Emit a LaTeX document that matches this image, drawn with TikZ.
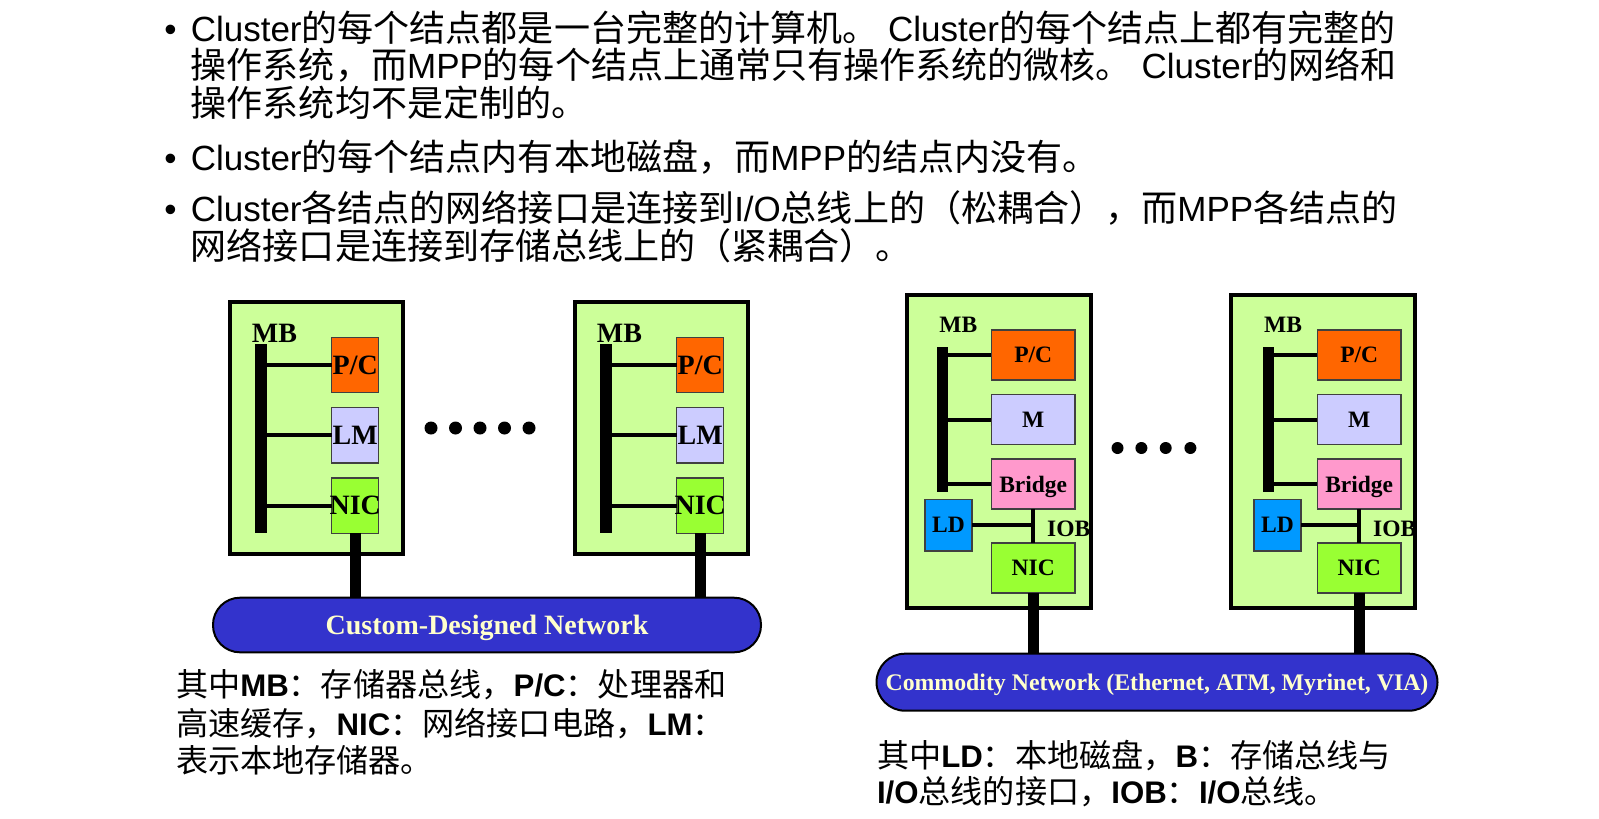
\documentclass[tikz,border=0pt]{standalone}
\usepackage{fontspec}
\setmainfont[Scale=1.03]{Noto Sans CJK SC}
\newfontfamily\latin{Liberation Sans}
\newfontfamily\boxfont{Liberation Serif}
\usetikzlibrary{positioning}

\definecolor{boardgreen}{HTML}{CCFF99}
\definecolor{pcorange}{HTML}{FF6600}
\definecolor{memlilac}{HTML}{CCCCFF}
\definecolor{nicgreen}{HTML}{99FF33}
\definecolor{bridgepink}{HTML}{FF99CC}
\definecolor{diskblue}{HTML}{0099FF}
\definecolor{netblue}{HTML}{3333CC}
\definecolor{netyellow}{HTML}{FFFFCC}

\newcommand{\en}[1]{{\latin #1}}
\newcommand{\enb}[1]{{\latin\bfseries #1}}

\begin{document}
\begin{tikzpicture}[%
    x=1pt, y=-1pt,
    every node/.style={inner sep=0pt, outer sep=0pt},
    topline/.style={anchor=base west, font=\fontsize{35}{42}\selectfont},
    noteline/.style={anchor=base west, font=\fontsize{31.2}{38}\selectfont},
    board/.style={draw, line width=4pt, fill=boardgreen},
    mppcell/.style={draw=black!75, line width=1.5pt, minimum width=47pt, minimum height=55.3pt,
        text depth=0pt, font=\boxfont\bfseries\fontsize{28}{30}\selectfont},
    clucell/.style={draw=black!75, line width=1.5pt, minimum width=83.5pt, minimum height=50pt,
        text depth=0pt, font=\boxfont\bfseries\fontsize{23.5}{26}\selectfont},
    mpplabel/.style={font=\boxfont\bfseries\fontsize{28}{30}\selectfont},
    clulabel/.style={font=\boxfont\bfseries\fontsize{23.5}{26}\selectfont},
    membus/.style={fill=black, minimum width=12pt},
    busline/.style={line width=4pt},
    uplink/.style={line width=11pt},
    netbar/.style={draw, line width=2pt, fill=netblue, text=netyellow, text depth=0pt}
]
\useasboundingbox (0,0) rectangle (1599,819);

% bullet text
\node[topline, anchor=base] (dot1) at (170.4,41) {\en{•}};
\node[topline] (t1a) at (190.8,41) {\en{Cluster}的每个结点都是一台完整的计算机。\en{\ Cluster}的每个结点上都有完整的};
\node[topline] (t1b) at (190.8,78.5) {操作系统，而\en{MPP}的每个结点上通常只有操作系统的微核。\en{\ Cluster}的网络和};
\node[topline] (t1c) at (190.8,116) {操作系统均不是定制的。};
\node[topline, anchor=base] (dot2) at (170.4,170) {\en{•}};
\node[topline] (t2a) at (190.8,170) {\en{Cluster}的每个结点内有本地磁盘，而\en{MPP}的结点内没有。};
\node[topline, anchor=base] (dot3) at (170.4,221) {\en{•}};
\node[topline] (t3a) at (190.8,221) {\en{Cluster}各结点的网络接口是连接到\en{I/O}总线上的（松耦合），而\en{MPP}各结点的};
\node[topline] (t3b) at (190.8,259) {网络接口是连接到存储总线上的（紧耦合）。};

% MPP: two nodes on the custom network
\node[board, minimum width=173pt, minimum height=252pt] (mppA) at (316.5,428) {};
\node[board, minimum width=173pt, minimum height=252pt] (mppB) at (661.5,428) {};

\node[membus, minimum height=189pt] (mbA) at (260.5,438.5) {};
\node[mpplabel] (mbtA) at (274.5,333) {MB};
\node[mppcell, fill=pcorange] (pcA) at (355.2,365) {P/C};
\node[mppcell, fill=memlilac, below=15pt of pcA] (lmA) {LM};
\node[mppcell, fill=nicgreen, below=15pt of lmA] (nicA) {\makebox[0pt]{NIC}};

\node[membus, minimum height=189pt] (mbB) at (605.5,438.5) {};
\node[mpplabel] (mbtB) at (619.5,333) {MB};
\node[mppcell, fill=pcorange] (pcB) at (700.2,365) {P/C};
\node[mppcell, fill=memlilac, below=15pt of pcB] (lmB) {LM};
\node[mppcell, fill=nicgreen, below=15pt of lmB] (nicB) {\makebox[0pt]{NIC}};

\draw[busline] (mbA.east |- pcA.west) -- (pcA.west);
\draw[busline] (mbA.east |- lmA.west) -- (lmA.west);
\draw[busline] (mbA.east |- nicA.west) -- (nicA.west);
\draw[busline] (mbB.east |- pcB.west) -- (pcB.west);
\draw[busline] (mbB.east |- lmB.west) -- (lmB.west);
\draw[busline] (mbB.east |- nicB.west) -- (nicB.west);

\node[netbar, minimum width=548pt, minimum height=54.6pt, rounded corners=27pt,
    font=\boxfont\bfseries\fontsize{28}{30}\selectfont] (netCustom) at (487,625) {Custom-Designed Network};
\draw[uplink] (nicA.south) -- (nicA.south |- netCustom.north);
\draw[uplink] (nicB.south) -- (nicB.south |- netCustom.north);

\fill (431,428) circle (6.5pt) (455.5,428) circle (6.5pt) (480,428) circle (6.5pt)
    (504.5,428) circle (6.5pt) (529,428) circle (6.5pt);

% Cluster: two nodes on the commodity network
\node[board, minimum width=184.3pt, minimum height=312.7pt] (cluA) at (999.2,451.7) {};
\node[board, minimum width=184.3pt, minimum height=312.7pt] (cluB) at (1323.2,451.7) {};

\node[membus, minimum width=11.7pt, minimum height=145.6pt] (cmbA) at (942.5,419.5) {};
\node[clulabel] (cmbtA) at (958.3,325) {MB};
\node[clucell, fill=pcorange] (cpcA) at (1033.2,355) {P/C};
\node[clucell, fill=memlilac, below=14.6pt of cpcA] (cmA) {M};
\node[clucell, fill=bridgepink, below=14.6pt of cmA] (cbrA) {Bridge};
\node[clucell, fill=nicgreen, below=34pt of cbrA] (cnicA) {NIC};
\node[clucell, fill=diskblue, minimum width=47pt, minimum height=51.2pt] (cldA) at (948.5,525.3) {LD};
\node[clulabel] (ciobA) at (1068.7,529.3) {IOB};

\node[membus, minimum width=11.7pt, minimum height=145.6pt] (cmbB) at (1268.5,419.5) {};
\node[clulabel] (cmbtB) at (1283,325) {MB};
\node[clucell, fill=pcorange] (cpcB) at (1359.2,355) {P/C};
\node[clucell, fill=memlilac, below=14.6pt of cpcB] (cmB) {M};
\node[clucell, fill=bridgepink, below=14.6pt of cmB] (cbrB) {Bridge};
\node[clucell, fill=nicgreen, below=34pt of cbrB] (cnicB) {NIC};
\node[clucell, fill=diskblue, minimum width=47pt, minimum height=51.2pt] (cldB) at (1277.5,525.3) {LD};
\node[clulabel] (ciobB) at (1394.7,529.3) {IOB};

\draw[busline] (cmbA.east |- cpcA.west) -- (cpcA.west);
\draw[busline] (cmbA.east |- cmA.west) -- (cmA.west);
\draw[busline] (cmbA.east |- cbrA.west) -- (cbrA.west);
\draw[busline] (cbrA.south) -- (cnicA.north);
\draw[busline] (cldA.east) -- (cldA.east -| cbrA.south);
\draw[busline] (cmbB.east |- cpcB.west) -- (cpcB.west);
\draw[busline] (cmbB.east |- cmB.west) -- (cmB.west);
\draw[busline] (cmbB.east |- cbrB.west) -- (cbrB.west);
\draw[busline] (cbrB.south) -- (cnicB.north);
\draw[busline] (cldB.east) -- (cldB.east -| cbrB.south);

\node[netbar, minimum width=561pt, minimum height=57pt, rounded corners=28.5pt,
    font=\boxfont\bfseries\fontsize{23.8}{26}\selectfont] (netCommodity) at (1157,682.2)
    {Commodity Network (Ethernet, ATM, Myrinet, VIA)};
\draw[uplink] (cnicA.south) -- (cnicA.south |- netCommodity.north);
\draw[uplink] (cnicB.south) -- (cnicB.south |- netCommodity.north);

\fill (1117.5,448) circle (6pt) (1141.4,448) circle (6pt) (1165.7,448) circle (6pt)
    (1190.4,448) circle (6pt);

% notes under the pictures
\node[noteline] (noteL1) at (176,696.5) {其中\enb{MB}：存储器总线，\enb{P/C}：处理器和};
\node[noteline] (noteL2) at (176,735.5) {高速缓存，\enb{NIC}：网络接口电路，\enb{LM}：};
\node[noteline] (noteL3) at (176,772.5) {表示本地存储器。};
\node[noteline] (noteR1) at (877,767.5) {其中\enb{LD}：本地磁盘，\enb{B}：存储总线与};
\node[noteline] (noteR2) at (877,803.5) {\enb{I/O}总线的接口，\enb{IOB}：\enb{I/O}总线。};

\end{tikzpicture}
\end{document}
